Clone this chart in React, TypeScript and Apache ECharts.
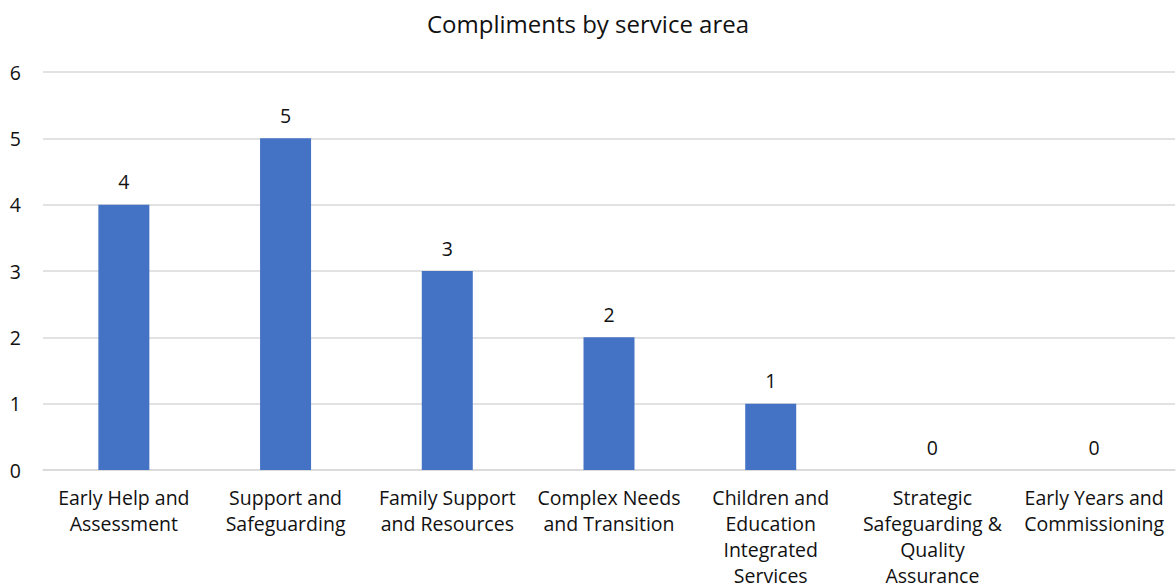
import React, { useEffect, useRef } from "react";
import * as echarts from "echarts";

const title = "Compliments by service area";
const categories = [
  "Early Help and\nAssessment",
  "Support and\nSafeguarding",
  "Family Support\nand Resources",
  "Complex Needs\nand Transition",
  "Children and\nEducation\nIntegrated\nServices",
  "Strategic\nSafeguarding &\nQuality\nAssurance",
  "Early Years and\nCommissioning",
];
const values = [4, 5, 3, 2, 1, 0, 0];
const yMin = 0;
const yMax = 6;
const yInterval = 1;

const FONT = "'Open Sans', 'Noto Sans', sans-serif";

export default function App() {
  const ref = useRef<HTMLDivElement>(null);
  useEffect(() => {
    if (!ref.current) return;
    const chart = echarts.init(ref.current, null, { renderer: "svg" });
    chart.setOption({
      animation: false,
      backgroundColor: "#ffffff",
      title: {
        text: title,
        left: "center",
        top: 6,
        textStyle: { fontFamily: FONT, fontSize: 24, fontWeight: "normal", color: "#111" },
      },
      grid: { left: 43, right: 1, top: 72, bottom: 114, containLabel: false },
      xAxis: {
        type: "category",
        data: categories,
        axisTick: { show: false },
        axisLine: { show: true, lineStyle: { color: "#d9d9d9", width: 1.5 } },
        axisLabel: {
          interval: 0,
          margin: 14,
          fontFamily: FONT,
          fontSize: 19.5,
          lineHeight: 26,
          color: "#111",
        },
      },
      yAxis: {
        type: "value",
        min: yMin,
        max: yMax,
        interval: yInterval,
        axisLine: { show: false },
        axisTick: { show: false },
        splitLine: { lineStyle: { color: "#d9d9d9", width: 1.5 } },
        axisLabel: { margin: 22, fontFamily: FONT, fontSize: 19.5, color: "#111" },
      },
      series: [
        {
          type: "bar",
          data: values,
          barWidth: 51,
          itemStyle: { color: "#4472C4" },
          label: {
            show: true,
            position: "top",
            distance: 13,
            fontFamily: FONT,
            fontSize: 19.5,
            color: "#111",
          },
        },
      ],
    });
    return () => chart.dispose();
  }, []);
  return <div ref={ref} style={{ width: 1176, height: 588, position: "absolute", left: 0, top: 0 }} />;
}
